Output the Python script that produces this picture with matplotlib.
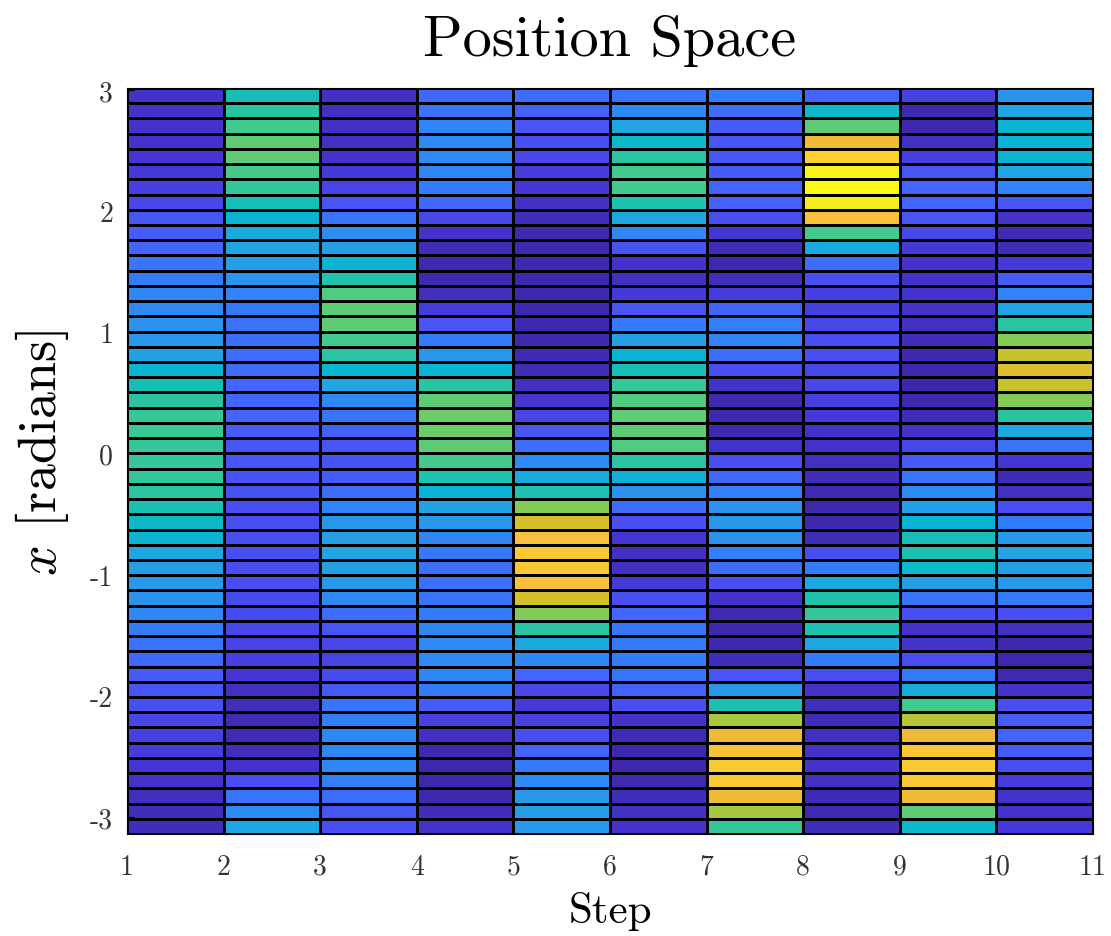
import numpy as np
import matplotlib
matplotlib.use('Agg')
import matplotlib.pyplot as plt
from matplotlib.colors import LinearSegmentedColormap

plt.rcParams['mathtext.fontset'] = 'cm'
plt.rcParams['axes.unicode_minus'] = False

# probability in position space, one list per step, rows from top (x ~ 3.0) to bottom (x = -pi)
step1 = [0.06, 0.06, 0.06, 0.06, 0.07, 0.08, 0.10, 0.12, 0.16, 0.18, 0.20, 0.24, 0.26, 0.29, 0.30, 0.32, 0.34,
         0.37, 0.44, 0.50, 0.54, 0.56, 0.57, 0.56, 0.56, 0.56, 0.54, 0.51, 0.46, 0.44, 0.39, 0.36, 0.34, 0.32,
         0.29, 0.26, 0.24, 0.21, 0.18, 0.16, 0.14, 0.12, 0.10, 0.09, 0.07, 0.06, 0.04, 0.035, 0.035]
step2 = [0.50, 0.54, 0.58, 0.62, 0.62, 0.59, 0.56, 0.50, 0.44, 0.40, 0.38, 0.36, 0.32, 0.28, 0.25, 0.24, 0.23,
         0.22, 0.22, 0.21, 0.21, 0.20, 0.18, 0.16, 0.16, 0.15, 0.15, 0.14, 0.14, 0.14, 0.14, 0.14, 0.14, 0.13,
         0.13, 0.12, 0.11, 0.10, 0.07, 0.045, 0.035, 0.03, 0.03, 0.04, 0.06, 0.14, 0.24, 0.30, 0.38]
step3 = [0.045, 0.045, 0.045, 0.045, 0.06, 0.08, 0.11, 0.16, 0.24, 0.31, 0.36, 0.44, 0.52, 0.60, 0.62, 0.62,
         0.58, 0.54, 0.44, 0.38, 0.30, 0.24, 0.19, 0.16, 0.15, 0.18, 0.22, 0.28, 0.34, 0.36, 0.38, 0.37, 0.34,
         0.30, 0.22, 0.16, 0.12, 0.11, 0.13, 0.17, 0.24, 0.27, 0.29, 0.29, 0.29, 0.27, 0.22, 0.16, 0.14]
step4 = [0.21, 0.24, 0.28, 0.30, 0.30, 0.29, 0.26, 0.21, 0.12, 0.06, 0.035, 0.025, 0.025, 0.04, 0.09, 0.16,
         0.26, 0.34, 0.44, 0.54, 0.62, 0.64, 0.64, 0.62, 0.58, 0.52, 0.44, 0.37, 0.34, 0.29, 0.25, 0.23, 0.23,
         0.24, 0.26, 0.29, 0.30, 0.30, 0.29, 0.26, 0.18, 0.10, 0.045, 0.025, 0.02, 0.02, 0.02, 0.035, 0.06]
step5 = [0.22, 0.19, 0.16, 0.14, 0.12, 0.09, 0.07, 0.045, 0.035, 0.025, 0.02, 0.02, 0.02, 0.02, 0.02, 0.02,
         0.02, 0.025, 0.035, 0.045, 0.07, 0.11, 0.16, 0.22, 0.30, 0.40, 0.52, 0.66, 0.76, 0.83, 0.85, 0.85,
         0.83, 0.76, 0.66, 0.54, 0.40, 0.29, 0.20, 0.12, 0.08, 0.10, 0.14, 0.20, 0.26, 0.30, 0.34, 0.36, 0.34]
step6 = [0.24, 0.30, 0.38, 0.46, 0.54, 0.58, 0.58, 0.52, 0.39, 0.29, 0.16, 0.06, 0.045, 0.08, 0.16, 0.26,
         0.36, 0.44, 0.50, 0.56, 0.60, 0.62, 0.62, 0.60, 0.54, 0.42, 0.32, 0.22, 0.14, 0.07, 0.045, 0.045, 0.08,
         0.14, 0.20, 0.24, 0.26, 0.26, 0.24, 0.19, 0.14, 0.06, 0.03, 0.02, 0.02, 0.025, 0.035, 0.045, 0.06]
step7 = [0.26, 0.22, 0.18, 0.16, 0.16, 0.18, 0.20, 0.19, 0.14, 0.07, 0.035, 0.02, 0.035, 0.09, 0.19, 0.27,
         0.28, 0.22, 0.14, 0.06, 0.025, 0.02, 0.025, 0.06, 0.14, 0.21, 0.27, 0.32, 0.34, 0.32, 0.27, 0.22, 0.14,
         0.06, 0.025, 0.02, 0.02, 0.035, 0.16, 0.34, 0.51, 0.70, 0.80, 0.84, 0.86, 0.85, 0.80, 0.70, 0.56]
step8 = [0.20, 0.46, 0.62, 0.80, 0.88, 0.97, 1.00, 0.95, 0.83, 0.58, 0.40, 0.22, 0.14, 0.10, 0.10, 0.12, 0.14,
         0.14, 0.12, 0.12, 0.10, 0.08, 0.06, 0.06, 0.045, 0.035, 0.025, 0.02, 0.02, 0.035, 0.14, 0.26, 0.40,
         0.52, 0.56, 0.52, 0.39, 0.26, 0.14, 0.06, 0.035, 0.035, 0.045, 0.06, 0.06, 0.045, 0.03, 0.025, 0.035]
step9 = [0.10, 0.025, 0.02, 0.045, 0.10, 0.16, 0.20, 0.20, 0.16, 0.12, 0.08, 0.06, 0.06, 0.06, 0.06, 0.045,
         0.035, 0.02, 0.015, 0.01, 0.02, 0.035, 0.06, 0.12, 0.17, 0.24, 0.30, 0.36, 0.44, 0.50, 0.51, 0.46, 0.36,
         0.24, 0.14, 0.06, 0.06, 0.14, 0.26, 0.40, 0.58, 0.72, 0.80, 0.85, 0.86, 0.85, 0.80, 0.62, 0.46]
step10 = [0.32, 0.38, 0.44, 0.44, 0.44, 0.38, 0.28, 0.16, 0.06, 0.03, 0.035, 0.08, 0.18, 0.28, 0.38, 0.54,
          0.66, 0.74, 0.77, 0.74, 0.66, 0.54, 0.39, 0.24, 0.07, 0.03, 0.045, 0.14, 0.26, 0.34, 0.38, 0.37, 0.34,
          0.26, 0.14, 0.045, 0.02, 0.015, 0.025, 0.06, 0.14, 0.18, 0.20, 0.18, 0.14, 0.09, 0.06, 0.06, 0.08]

steps = [step1, step2, step3, step4, step5, step6, step7, step8, step9, step10]
step_edges = np.arange(1, 12)
n_grid = 50
x_edges = -np.pi + 2 * np.pi / n_grid * np.arange(n_grid)

# parula (sampled every few entries)
parula = LinearSegmentedColormap.from_list('parula', [
    (0.2422, 0.1504, 0.6603), (0.2706, 0.2147, 0.8364), (0.2813, 0.3006, 0.9414),
    (0.2699, 0.3892, 0.9906), (0.1963, 0.4847, 0.9892), (0.1687, 0.5703, 0.9359),
    (0.1248, 0.6459, 0.8883), (0.0297, 0.7082, 0.8163), (0.0964, 0.7500, 0.7120),
    (0.2161, 0.7843, 0.5923), (0.3909, 0.8029, 0.4354), (0.6174, 0.7876, 0.2612),
    (0.8203, 0.7498, 0.1535), (0.9728, 0.7298, 0.2394), (0.9892, 0.8136, 0.1885),
    (0.9597, 0.9135, 0.1423), (0.9769, 0.9839, 0.0805)])

C = np.array(steps).T[::-1]

fig = plt.figure(figsize=(11.11, 9.37), dpi=100)
ax = fig.add_axes([127 / 1111, 102 / 937, 966 / 1111, 746 / 937])
ax.pcolormesh(step_edges, x_edges, C, cmap=parula, edgecolors='k', linewidth=1.0, shading='flat')
ax.set_xlim(1, 11)
ax.set_ylim(x_edges[0], x_edges[-1])

yt = [-3, -2, -1, 0, 1, 2, 3]
ax.set_xticks(step_edges)
ax.set_xticklabels([str(s) for s in step_edges])
ax.set_yticks(yt)
ax.set_yticklabels([str(v) for v in yt])
ax.tick_params(direction='in', length=5, width=0.8, labelsize=20, labelcolor='#333333')
ax.tick_params(axis='x', pad=14)
ax.tick_params(axis='y', pad=10)
for lab in ax.get_xticklabels() + ax.get_yticklabels():
    lab.set_fontfamily('cmr10')
for s in ax.spines.values():
    s.set_linewidth(0.8)

ax.set_title('Position Space', fontfamily='cmr10', fontsize=42, pad=24)
ax.set_xlabel('Step', fontfamily='cmr10', fontsize=31, labelpad=8)
ax.set_ylabel(r'$x$ [radians]', fontfamily='cmr10', fontsize=39)
ax.yaxis.set_label_coords(-0.058, 0.512)

fig.savefig('out.png', dpi=100)
